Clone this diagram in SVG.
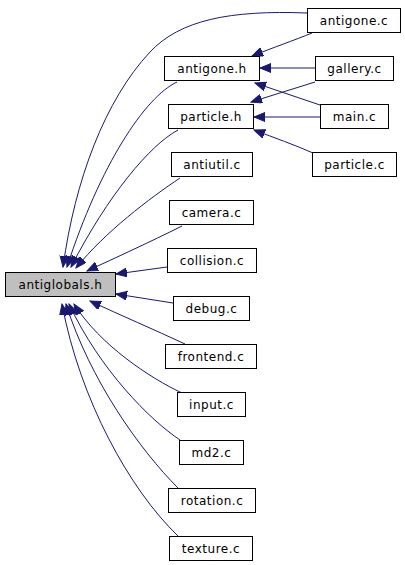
<svg xmlns="http://www.w3.org/2000/svg" width="405" height="565" viewBox="0 0 405 565">
<defs>
<style>
.n rect{fill:#ffffff;stroke:#000000;stroke-width:1}
.n text{font-family:"DejaVu Sans",sans-serif;font-size:12px;letter-spacing:0.5px;text-anchor:middle;fill:#000000}
#antiglobals_h rect{fill:#bfbfbf}
.e path{fill:none;stroke:#191970;stroke-width:1;marker-end:url(#ah)}
</style>
<marker id="ah" markerUnits="userSpaceOnUse" markerWidth="12" markerHeight="10" refX="11" refY="4.5" orient="auto">
<path d="M0,0 L11,4.5 L0,9 z" fill="#191970" stroke="#191970" stroke-width="1"/>
</marker>
</defs>
<rect width="405" height="565" fill="#ffffff"/>
<g class="e" id="edges">
<path d="M307,13 C230,10 180,20 150,52 C105,100 75,180 63,267"/>
<path d="M177,82 C145,97 100,165 67,267"/>
<path d="M178,130 C150,145 108,195 71,267"/>
<path d="M180,178 C150,198 105,232 76,268"/>
<path d="M182,226 C150,242 115,258 87,271"/>
<path d="M167,267 L116,274"/>
<path d="M173,303 L116,294"/>
<path d="M185,344 C155,330 120,315 90,301"/>
<path d="M182,393 C150,378 100,345 74,304"/>
<path d="M180,440 C150,420 100,370 69,304"/>
<path d="M178,488 C140,450 90,380 66,304"/>
<path d="M178,536 C130,490 80,400 62,304"/>
<path d="M312,33 C295,40 272,48 252,56"/>
<path d="M315,68 L260,68"/>
<path d="M320,105 L255,83"/>
<path d="M315,82 L251,102"/>
<path d="M320,117 L254,117"/>
<path d="M313,153 C295,145 275,138 254,130"/>
</g>
<g class="n" id="antigone_c"><rect x="307.5" y="8.5" width="93" height="24"/><text x="354" y="25">antigone.c</text></g>
<g class="n" id="antigone_h"><rect x="164.5" y="56.5" width="95" height="24"/><text x="212" y="73">antigone.h</text></g>
<g class="n" id="gallery_c"><rect x="315.5" y="56.5" width="78" height="24"/><text x="354.5" y="73">gallery.c</text></g>
<g class="n" id="particle_h"><rect x="168.5" y="104.5" width="85" height="24"/><text x="211" y="121">particle.h</text></g>
<g class="n" id="main_c"><rect x="320.5" y="104.5" width="68" height="24"/><text x="354.5" y="121">main.c</text></g>
<g class="n" id="antiutil_c"><rect x="171.5" y="152.5" width="81" height="24"/><text x="212" y="169">antiutil.c</text></g>
<g class="n" id="particle_c"><rect x="312.5" y="152.5" width="84" height="24"/><text x="354.5" y="169">particle.c</text></g>
<g class="n" id="camera_c"><rect x="169.5" y="200.5" width="84" height="24"/><text x="211.5" y="217">camera.c</text></g>
<g class="n" id="collision_c"><rect x="167.5" y="248.5" width="89" height="24"/><text x="212" y="265">collision.c</text></g>
<g class="n" id="antiglobals_h"><rect x="5.5" y="272.5" width="110" height="24"/><text x="60.5" y="289">antiglobals.h</text></g>
<g class="n" id="debug_c"><rect x="173.5" y="296.5" width="76" height="24"/><text x="211.5" y="313">debug.c</text></g>
<g class="n" id="frontend_c"><rect x="165.5" y="344.5" width="91" height="24"/><text x="211" y="361">frontend.c</text></g>
<g class="n" id="input_c"><rect x="177.5" y="392.5" width="68" height="24"/><text x="211.5" y="409">input.c</text></g>
<g class="n" id="md2_c"><rect x="179.5" y="440.5" width="64" height="24"/><text x="211.5" y="457">md2.c</text></g>
<g class="n" id="rotation_c"><rect x="168.5" y="488.5" width="87" height="24"/><text x="212" y="505">rotation.c</text></g>
<g class="n" id="texture_c"><rect x="169.5" y="536.5" width="83" height="24"/><text x="211" y="553">texture.c</text></g>
</svg>
